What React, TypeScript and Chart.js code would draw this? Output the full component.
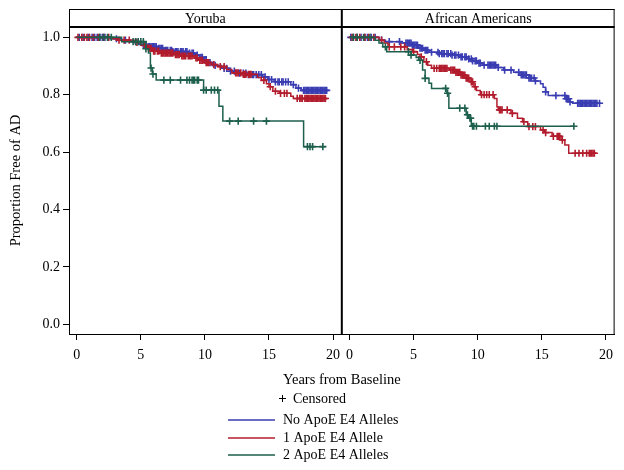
import React, { useEffect, useRef } from 'react';
import { Chart, registerables } from 'chart.js';

Chart.register(...registerables);

const FONT = "'Liberation Serif', 'Times New Roman', serif";

const panelTitles = ['Yoruba', 'African Americans'];
const groupLabels = ['No ApoE E4 Alleles', '1 ApoE E4 Allele', '2 ApoE E4 Alleles'];
const groupColors = ['#3a3db2', '#b21c2c', '#1d5f4d'];
const xTickValues = [0, 5, 10, 15, 20];
const yTickValues = [0, 0.2, 0.4, 0.6, 0.8, 1.0];
const xAxisTitle = 'Years from Baseline';
const yAxisTitle = 'Proportion Free of AD';
const censoredLabel = 'Censored';

// ---- Yoruba ----
const yorNoTimes = [0, 2.6, 3.5, 4.2, 4.9, 5.5, 6.3, 6.8, 7.5, 8.7, 9.2, 9.6, 9.9, 10.2, 10.6, 11.3, 11.9, 12.5, 13.3, 14.5, 14.9, 15.4, 16.7, 17.1, 17.5, 19.5];
const yorNoSurv = [1.0, 0.995, 0.99, 0.985, 0.975, 0.968, 0.962, 0.955, 0.95, 0.945, 0.938, 0.93, 0.922, 0.912, 0.902, 0.892, 0.882, 0.875, 0.87, 0.862, 0.853, 0.845, 0.835, 0.823, 0.815, 0.815];
const yorNoCens = [0.2, 0.5, 0.9, 1.2, 1.4, 1.6, 1.8, 2.0, 2.2, 3.1, 3.8, 4.6, 5.2, 5.4, 5.6, 5.7, 5.8, 5.9, 6.0, 6.1, 6.2, 6.4, 6.5, 6.6, 6.7, 6.9, 7.0, 7.1, 7.3, 7.4, 7.5, 7.7, 7.8, 7.9, 8.1, 8.2, 8.3, 8.5, 8.6, 8.8, 9.0, 9.1, 9.4, 9.7, 9.8, 10.0, 10.1, 10.4, 10.8, 11.5, 11.7, 12.0, 12.3, 12.7, 13.0, 13.2, 13.4, 13.5, 13.7, 13.8, 14.0, 14.2, 14.4, 14.7, 15.0, 15.2, 15.5, 15.7, 15.8, 16.0, 16.1, 16.3, 16.5, 16.9, 17.3, 17.7, 17.8, 17.9, 18.0, 18.1, 18.2, 18.3, 18.4, 18.5, 18.6, 18.7, 18.8, 18.9, 19.0, 19.1, 19.2, 19.3, 19.4, 19.5];

const yorOneTimes = [0, 2.7, 3.2, 4.5, 5.0, 5.5, 5.9, 6.5, 7.6, 8.1, 9.2, 9.5, 9.9, 10.5, 11.0, 11.7, 12.1, 12.9, 14.1, 14.4, 14.8, 15.0, 15.3, 15.8, 16.7, 16.9, 19.5];
const yorOneSurv = [1.0, 0.995, 0.99, 0.982, 0.972, 0.962, 0.952, 0.945, 0.94, 0.935, 0.928, 0.92, 0.912, 0.905, 0.898, 0.888, 0.876, 0.871, 0.86, 0.85, 0.838, 0.828, 0.812, 0.805, 0.795, 0.787, 0.787];
const yorOneCens = [0.1, 0.4, 0.6, 0.8, 1.0, 1.3, 1.7, 2.1, 2.5, 3.3, 3.7, 4.1, 4.7, 5.3, 5.6, 5.7, 5.8, 6.0, 6.1, 6.3, 6.4, 6.6, 6.7, 6.8, 6.9, 7.0, 7.1, 7.2, 7.3, 7.4, 7.5, 7.7, 7.8, 7.9, 8.0, 8.2, 8.3, 8.4, 8.5, 8.7, 8.8, 8.9, 9.0, 9.3, 9.4, 9.6, 9.7, 9.8, 10.1, 10.2, 10.3, 10.7, 11.2, 11.5, 12.4, 12.5, 12.6, 12.8, 13.0, 13.1, 13.2, 13.4, 13.5, 13.6, 14.6, 15.1, 15.5, 15.9, 16.2, 16.4, 17.2, 17.4, 17.5, 17.6, 17.8, 17.9, 18.0, 18.1, 18.2, 18.3, 18.4, 18.5, 18.6, 18.7, 18.8, 18.9, 19.0, 19.1, 19.2, 19.3, 19.4];

const yorTwoTimes = [0, 3.5, 5.4, 5.6, 5.75, 5.9, 6.2, 9.9, 11.1, 11.4, 17.7, 19.4];
const yorTwoSurv = [1.0, 0.985, 0.96, 0.945, 0.893, 0.872, 0.851, 0.816, 0.76, 0.708, 0.619, 0.619];
const yorTwoCens = [1.8, 2.1, 2.4, 2.7, 4.4, 4.6, 4.8, 5.0, 5.2, 5.4, 5.8, 5.95, 6.8, 7.3, 8.1, 8.6, 8.8, 9.0, 9.1, 9.2, 9.4, 9.5, 9.9, 10.1, 10.5, 10.75, 11.0, 11.93, 12.6, 13.8, 14.8, 18.0, 18.2, 18.4, 19.2];

// ---- African Americans ----
const aaNoTimes = [0, 2.3, 2.8, 4.0, 4.9, 5.4, 5.8, 6.2, 7.0, 8.0, 8.6, 9.3, 9.6, 10.0, 10.4, 11.5, 12.0, 12.8, 13.3, 14.0, 14.5, 14.9, 15.1, 15.3, 15.5, 16.9, 17.2, 17.4, 19.6];
const aaNoSurv = [1.0, 0.99, 0.985, 0.98, 0.973, 0.962, 0.955, 0.948, 0.943, 0.938, 0.932, 0.925, 0.918, 0.91, 0.903, 0.895, 0.886, 0.878, 0.869, 0.858, 0.848, 0.838, 0.826, 0.81, 0.797, 0.786, 0.775, 0.77, 0.77];
const aaNoCens = [0.1, 0.3, 0.6, 0.9, 1.2, 1.4, 1.7, 2.0, 2.5, 3.1, 3.9, 4.4, 4.5, 4.6, 4.7, 4.8, 4.9, 5.0, 5.1, 5.2, 5.3, 5.5, 5.6, 5.7, 5.9, 6.0, 6.1, 6.4, 6.9, 7.0, 7.2, 7.3, 7.4, 7.6, 7.7, 7.9, 8.0, 8.2, 8.3, 8.5, 8.7, 8.8, 9.0, 9.1, 9.3, 9.5, 9.6, 9.8, 9.9, 10.1, 10.2, 10.5, 10.8, 10.9, 11.0, 11.1, 11.2, 11.3, 11.4, 11.6, 12.1, 12.6, 13.2, 13.4, 13.5, 13.6, 13.7, 13.8, 14.0, 14.1, 14.2, 14.4, 14.5, 15.3, 16.1, 16.8, 16.9, 17.0, 17.1, 17.2, 17.8, 17.9, 18.0, 18.1, 18.2, 18.3, 18.4, 18.5, 18.6, 18.7, 18.8, 18.9, 19.0, 19.1, 19.2, 19.3, 19.5];

const aaOneTimes = [0, 2.3, 2.7, 3.0, 4.5, 4.9, 5.3, 5.5, 5.8, 6.1, 6.4, 7.8, 8.3, 8.7, 9.1, 9.4, 9.7, 9.9, 10.2, 11.3, 11.5, 11.6, 12.6, 13.1, 13.5, 13.9, 14.9, 15.2, 15.8, 16.5, 16.8, 17.1, 19.2];
const aaOneSurv = [1.0, 0.99, 0.98, 0.967, 0.958, 0.95, 0.94, 0.932, 0.915, 0.903, 0.892, 0.886, 0.878, 0.868, 0.858, 0.845, 0.828, 0.815, 0.8, 0.787, 0.758, 0.747, 0.735, 0.718, 0.706, 0.689, 0.677, 0.668, 0.655, 0.642, 0.625, 0.596, 0.596];
const aaOneCens = [0.2, 0.5, 0.8, 1.2, 1.5, 1.9, 2.5, 3.1, 3.5, 4.0, 4.3, 5.0, 5.6, 6.0, 6.6, 6.8, 7.0, 7.1, 7.2, 7.3, 7.4, 7.5, 7.6, 7.9, 8.0, 8.1, 8.2, 8.3, 8.4, 8.5, 8.6, 8.7, 8.8, 8.9, 9.0, 9.1, 9.2, 9.3, 9.5, 9.6, 9.8, 10.3, 10.5, 10.7, 10.9, 11.2, 11.7, 11.8, 11.9, 12.3, 12.7, 13.6, 14.0, 14.3, 14.5, 15.1, 15.3, 15.9, 16.2, 16.3, 16.4, 16.6, 17.6, 17.9, 18.2, 18.5, 18.7, 18.8, 18.9, 19.0, 19.1];

const aaTwoTimes = [0, 2.0, 2.3, 2.6, 2.9, 4.8, 5.2, 5.4, 5.7, 5.9, 6.2, 6.4, 7.6, 7.75, 9.1, 9.3, 9.5, 17.5];
const aaTwoSurv = [1.0, 0.99, 0.98, 0.967, 0.95, 0.938, 0.93, 0.92, 0.886, 0.857, 0.84, 0.822, 0.805, 0.753, 0.73, 0.718, 0.69, 0.69];
const aaTwoCens = [0.3, 0.6, 1.1, 1.6, 2.8, 4.6, 4.8, 5.5, 5.9, 7.5, 7.65, 8.6, 9.0, 9.2, 9.4, 9.45, 9.6, 9.7, 9.9, 10.6, 10.9, 11.3, 11.5, 17.5];

const survAt = (times: number[], surv: number[], t: number) => {
  let v = surv[0];
  for (let i = 0; i < times.length; i++) {
    if (times[i] <= t) v = surv[i];
  }
  return v;
};

const panelSeries = [
  {
    axis: 'xL',
    groups: [
      { times: yorNoTimes, surv: yorNoSurv, cens: yorNoCens },
      { times: yorOneTimes, surv: yorOneSurv, cens: yorOneCens },
      { times: yorTwoTimes, surv: yorTwoSurv, cens: yorTwoCens },
    ],
  },
  {
    axis: 'xR',
    groups: [
      { times: aaNoTimes, surv: aaNoSurv, cens: aaNoCens },
      { times: aaOneTimes, surv: aaOneSurv, cens: aaOneCens },
      { times: aaTwoTimes, surv: aaTwoSurv, cens: aaTwoCens },
    ],
  },
];

const decorPlugin = {
  id: 'decor',
  afterDraw(chart: any) {
    const ctx = chart.ctx;
    const area = chart.chartArea;
    const xL = chart.scales.xL;
    const headTop = 9;
    const mid = xL.right;
    ctx.save();
    ctx.strokeStyle = '#000';
    ctx.fillStyle = '#000';
    // header strip frame
    ctx.lineWidth = 1;
    ctx.beginPath();
    ctx.moveTo(area.left, headTop + 0.5);
    ctx.lineTo(area.right, headTop + 0.5);
    ctx.moveTo(area.right - 0.5, headTop);
    ctx.lineTo(area.right - 0.5, area.bottom);
    ctx.moveTo(area.left + 0.5, headTop);
    ctx.lineTo(area.left + 0.5, area.top);
    ctx.stroke();
    ctx.lineWidth = 2;
    ctx.beginPath();
    ctx.moveTo(area.left, area.top);
    ctx.lineTo(area.right, area.top);
    ctx.moveTo(mid, headTop);
    ctx.lineTo(mid, area.bottom);
    ctx.stroke();
    // header texts
    ctx.font = `14px ${FONT}`;
    ctx.textAlign = 'center';
    ctx.textBaseline = 'middle';
    ctx.fillText(panelTitles[0], (area.left + mid) / 2, (headTop + area.top) / 2 + 1);
    ctx.fillText(panelTitles[1], (mid + area.right) / 2, (headTop + area.top) / 2 + 1);
    // y title
    ctx.save();
    ctx.translate(16, (area.top + area.bottom) / 2);
    ctx.rotate(-Math.PI / 2);
    ctx.font = `14.5px ${FONT}`;
    ctx.fillText(yAxisTitle, 0, 0);
    ctx.restore();
    // x title
    ctx.font = `14.5px ${FONT}`;
    ctx.fillText(xAxisTitle, (area.left + area.right) / 2, 380);
    // censored legend
    ctx.textAlign = 'left';
    ctx.font = `14px ${FONT}`;
    ctx.lineWidth = 1;
    ctx.beginPath();
    ctx.moveTo(279, 398.5);
    ctx.lineTo(286, 398.5);
    ctx.moveTo(282.5, 395);
    ctx.lineTo(282.5, 402);
    ctx.stroke();
    ctx.fillText(censoredLabel, 293, 399);
    // group legend
    const rows = [420, 437.5, 455];
    for (let i = 0; i < groupLabels.length; i++) {
      ctx.save();
      ctx.strokeStyle = groupColors[i];
      ctx.lineWidth = 1.6;
      ctx.beginPath();
      ctx.moveTo(228, Math.round(rows[i]));
      ctx.lineTo(275, Math.round(rows[i]));
      ctx.stroke();
      ctx.restore();
      ctx.fillStyle = '#000';
      ctx.fillText(groupLabels[i], 283, rows[i] + 0.5);
    }
    ctx.restore();
  },
};

export default function App() {
  const canvasRef = useRef<HTMLCanvasElement | null>(null);

  useEffect(() => {
    const canvas = canvasRef.current;
    if (!canvas) return;

    const datasets: any[] = [];
    // order: green first (drawn on top), then red, then blue
    for (const gi of [2, 1, 0]) {
      for (const p of panelSeries) {
        const g = p.groups[gi];
        datasets.push({
          label: `${groupLabels[gi]} cens`,
          xAxisID: p.axis,
          yAxisID: 'y',
          data: g.cens.map((t) => ({ x: t, y: survAt(g.times, g.surv, t) })),
          showLine: false,
          pointStyle: 'cross',
          pointRadius: 3.6,
          pointBorderWidth: 1.6,
          borderColor: groupColors[gi],
          backgroundColor: groupColors[gi],
        });
        datasets.push({
          label: groupLabels[gi],
          xAxisID: p.axis,
          yAxisID: 'y',
          data: g.times.map((t, i) => ({ x: t, y: g.surv[i] })),
          stepped: 'before',
          borderColor: groupColors[gi],
          borderWidth: 1.5,
          pointRadius: 0,
          fill: false,
        });
      }
    }

    const xScale = () => ({
      type: 'linear',
      position: 'bottom',
      stack: 'panels',
      stackWeight: 1,
      min: -0.6,
      max: 20.68,
      afterFit: (s: any) => {
        s.height = 136;
      },
      afterBuildTicks: (s: any) => {
        s.ticks = xTickValues.map((v) => ({ value: v }));
      },
      ticks: {
        autoSkip: false,
        maxRotation: 0,
        color: '#000',
        padding: 7,
        font: { family: FONT, size: 14 },
        callback: (v: any) => String(v),
      },
      grid: {
        display: true,
        drawOnChartArea: false,
        drawTicks: true,
        tickLength: 6,
        color: '#000',
      },
      border: { display: true, color: '#000', width: 1 },
    });

    const chart = new Chart(canvas, {
      type: 'line',
      data: { datasets },
      options: {
        responsive: false,
        animation: false,
        devicePixelRatio: 1,
        layout: { padding: { top: 27, left: 0, right: 8, bottom: 0 } },
        plugins: {
          legend: { display: false },
          tooltip: { enabled: false },
          title: { display: false },
        },
        scales: {
          xL: xScale() as any,
          xR: xScale() as any,
          y: {
            type: 'linear',
            position: 'left',
            min: -0.034,
            max: 1.036,
            afterFit: (s: any) => {
              s.width = 69;
            },
            afterBuildTicks: (s: any) => {
              s.ticks = yTickValues.map((v) => ({ value: v }));
            },
            ticks: {
              color: '#000',
              padding: 3,
              font: { family: FONT, size: 14 },
              callback: (v: any) => Number(v).toFixed(1),
            },
            grid: {
              display: true,
              drawOnChartArea: false,
              drawTicks: true,
              tickLength: 6,
              color: '#000',
            },
            border: { display: true, color: '#000', width: 1 },
          },
        },
      },
      plugins: [decorPlugin],
    });

    return () => chart.destroy();
  }, []);

  return (
    <div style={{ position: 'absolute', left: 0, top: 0, width: 624, height: 470, background: '#fff' }}>
      <canvas ref={canvasRef} width={624} height={470} style={{ display: 'block' }} />
    </div>
  );
}
